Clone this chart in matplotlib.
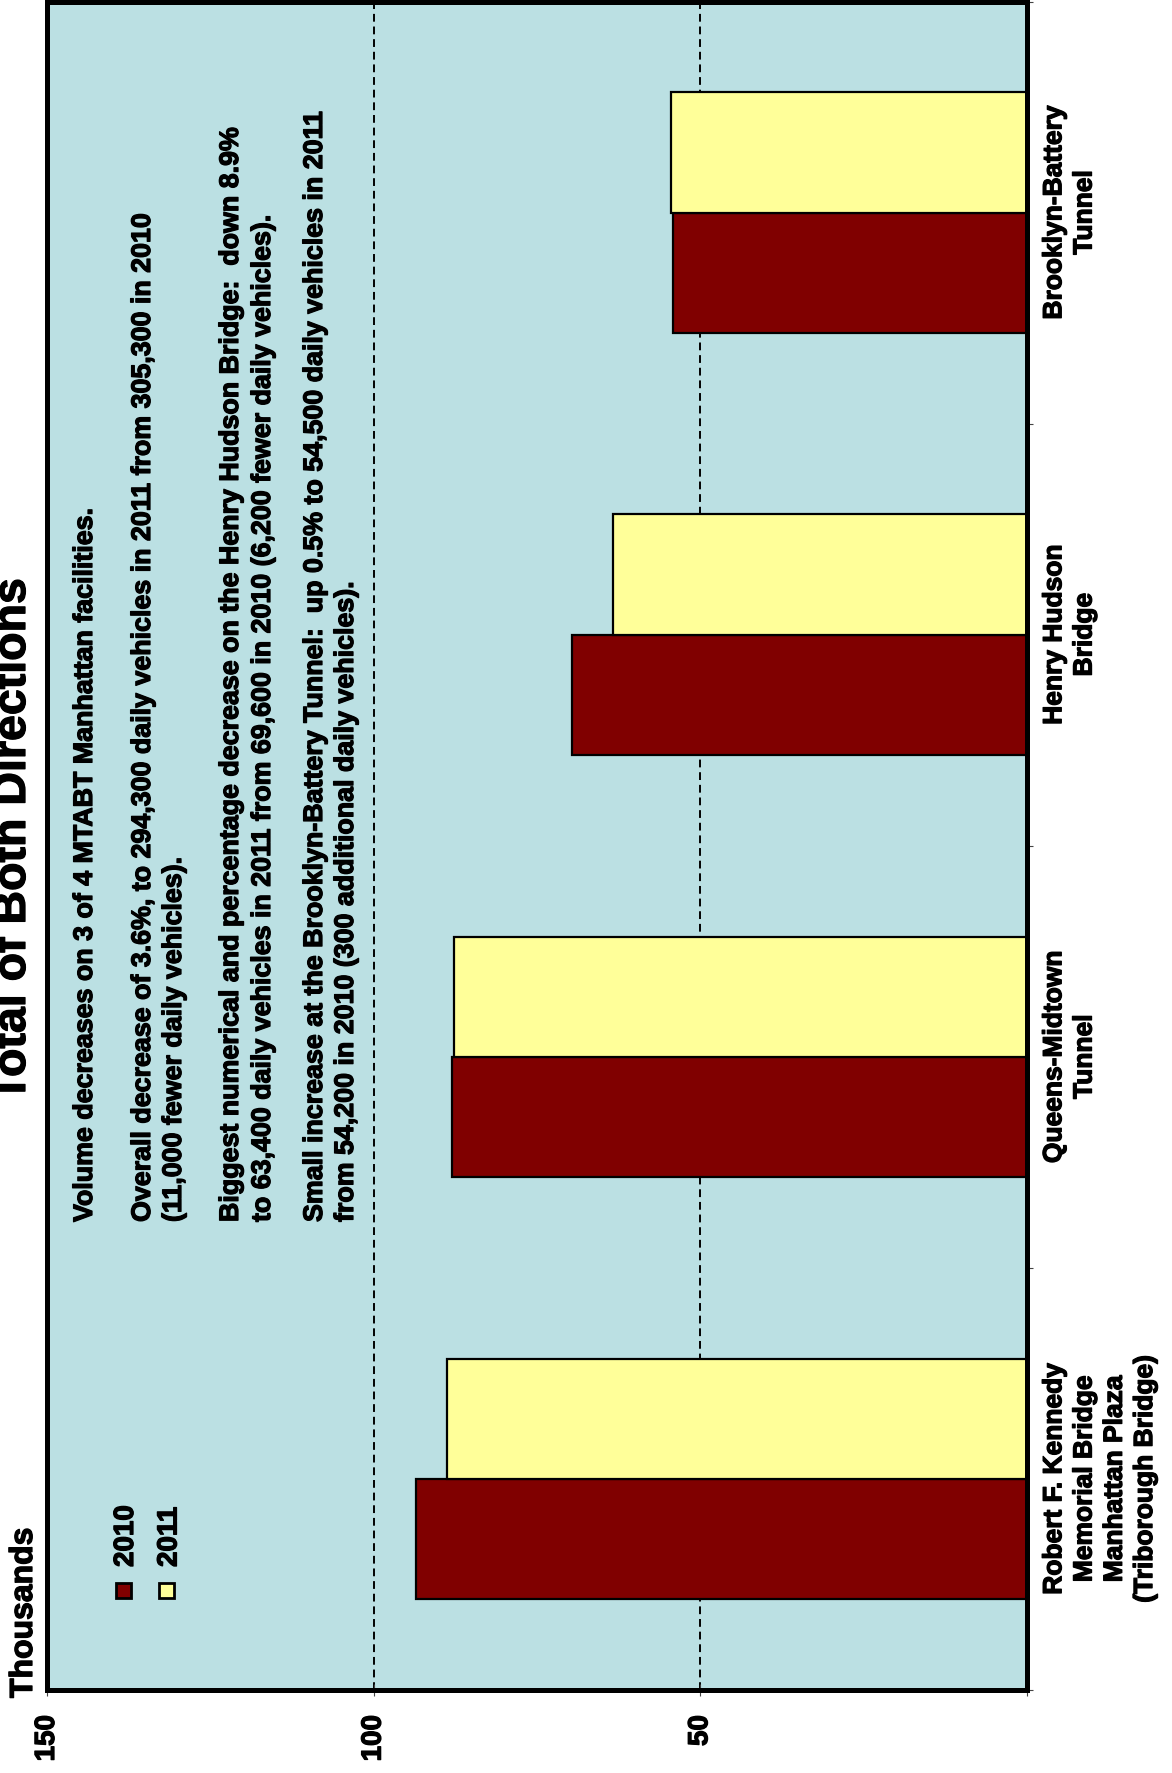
import matplotlib
matplotlib.use("Agg")
import matplotlib.pyplot as plt
import matplotlib.patheffects as pe
from matplotlib.ticker import FixedLocator
import numpy as np

plt.rcParams["font.family"] = ["Liberation Sans", "DejaVu Sans"]
plt.rcParams["font.weight"] = "bold"

# ---- data (thousands of daily vehicles, both directions) ----
facilities = [
    "Robert F. Kennedy\nMemorial Bridge\nManhattan Plaza\n(Triborough Bridge)",
    "Queens-Midtown\nTunnel",
    "Henry Hudson\nBridge",
    "Brooklyn-Battery\nTunnel",
]
vol_2010 = [93.5, 88.0, 69.6, 54.2]
vol_2011 = [88.7, 87.7, 63.4, 54.5]
years = ["2010", "2011"]
value_ticks = [0, 50, 100, 150]
value_tick_labels = ["", "50", "100", "150"]

notes = [
    "Volume decreases on 3 of 4 MTABT Manhattan facilities.",
    "Overall decrease of 3.6%, to 294,300 daily vehicles in 2011 from 305,300 in 2010",
    "(11,000 fewer daily vehicles).",
    "Biggest numerical and percentage decrease on the Henry Hudson Bridge:  down 8.9%",
    "to 63,400 daily vehicles in 2011 from 69,600 in 2010 (6,200 fewer daily vehicles).",
    "Small increase at the Brooklyn-Battery Tunnel:  up 0.5% to 54,500 daily vehicles in 2011",
    "from 54,200 in 2010 (300 additional daily vehicles).",
]
title = "Total of Both Directions"
unit_label = "Thousands"

# ---- styling ----
BG = "#BBE0E3"
C2010 = "#800000"
C2011 = "#FFFF99"
colors = [C2010, C2011]
heavy = [pe.withStroke(linewidth=0.9, foreground="black")]

W, H = 1172, 1774
DPI = 100
fig = plt.figure(figsize=(W / DPI, H / DPI), dpi=DPI)


def fx(px):
    return px / W


def fy(py):
    return 1 - py / H


# axes box in pixel units
ax_l, ax_r, ax_t, ax_b = 47, 1027, 2.5, 1691
ax = fig.add_axes([fx(ax_l), fy(ax_b), fx(ax_r) - fx(ax_l), fy(ax_t) - fy(ax_b)])
ax.set_facecolor(BG)

pos = np.arange(len(facilities))
bh = 0.285
ax.barh(pos - bh / 2, vol_2010, height=bh, color=C2010, edgecolor="black", linewidth=1.6, zorder=3)
ax.barh(pos + bh / 2, vol_2011, height=bh, color=C2011, edgecolor="black", linewidth=1.6, zorder=3)

ax.set_xlim(150, 0)
ax.set_ylim(-0.5, len(facilities) - 0.5)

# dashed gridlines
for v in value_ticks[1:-1]:
    ax.axvline(v, color="black", linestyle=(0, (4, 2.5)), linewidth=1.4, zorder=1)

for sp in ax.spines.values():
    sp.set_linewidth(3.6)
    sp.set_color("black")
    sp.set_zorder(5)

# value axis along the bottom
ax.set_xticks(value_ticks)
ax.set_xticklabels(value_tick_labels, rotation=90, fontsize=20, fontweight="bold")
ax.tick_params(axis="x", direction="inout", length=8, width=0.8, color="#444444", pad=14)

# categories along the right
ax.yaxis.tick_right()
ax.set_yticks(pos)
ax.set_yticklabels(facilities, rotation=90, fontsize=19, fontweight="bold",
                   multialignment="center", va="center", ha="left", linespacing=1.33)
ax.tick_params(axis="y", which="major", length=0, pad=11)
ax.yaxis.set_minor_locator(FixedLocator(np.arange(-0.5, len(facilities), 1.0)))
ax.tick_params(axis="y", which="minor", direction="out", length=4.5, width=0.8,
               color="#444444", right=True, left=False)

for lbl in ax.get_xticklabels() + ax.get_yticklabels():
    lbl.set_path_effects(heavy)

# legend drawn as rotated entries
leg_x = [123, 166.5]
for i, yr in enumerate(years):
    fig.patches.append(plt.Rectangle((fx(leg_x[i] - 7.5), fy(1599)), 15 / W, 15 / H,
                                     transform=fig.transFigure, facecolor=colors[i],
                                     edgecolor="black", linewidth=2.0, zorder=6))
    fig.text(fx(leg_x[i] + 10), fy(1568), yr, rotation=90, rotation_mode="anchor",
             ha="left", va="baseline", fontsize=20, fontweight="bold", path_effects=heavy)

# commentary
note_x = [92, 150, 181, 238, 270, 322, 353]
for x, line in zip(note_x, notes):
    fig.text(fx(x), fy(1223), line, rotation=90, rotation_mode="anchor",
             ha="left", va="baseline", fontsize=19.3, fontweight="bold", path_effects=heavy)

# title and unit label
fig.text(fx(25), fy(841), title, rotation=90, rotation_mode="anchor",
         ha="center", va="baseline", fontsize=33.5, fontweight="bold", path_effects=heavy)
fig.text(fx(32), fy(1699), unit_label, rotation=90, rotation_mode="anchor",
         ha="left", va="baseline", fontsize=23, fontweight="bold", path_effects=heavy)

fig.savefig("out.png", dpi=DPI)
